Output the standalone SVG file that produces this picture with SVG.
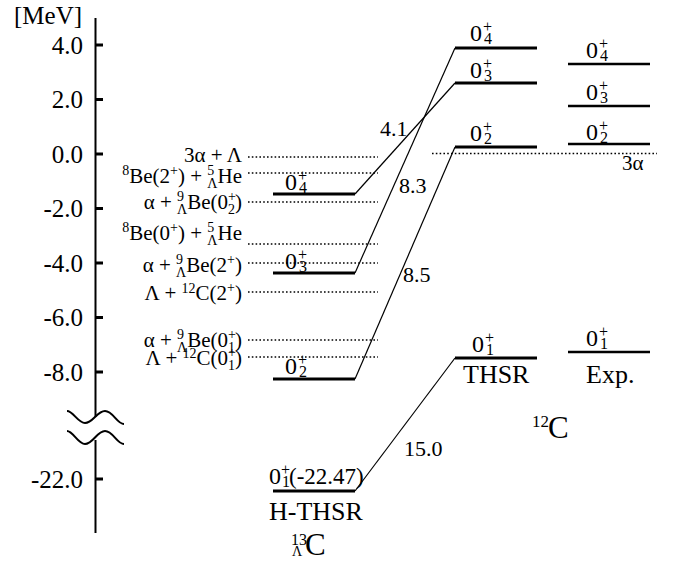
<svg xmlns="http://www.w3.org/2000/svg" width="680" height="561" viewBox="0 0 680 561">
<style>
.ax{stroke:#000;stroke-width:2;fill:none}
.tick{stroke:#000;stroke-width:3}
.dot{stroke:#000;stroke-width:1.6;stroke-dasharray:1.6 2.2;fill:none}
.bar{stroke:#000;stroke-width:3}
.ebar{stroke:#000;stroke-width:2.6}
.con{stroke:#000;stroke-width:1.2;fill:none}
</style>
<g font-family="Times New Roman" fill="#000">
<g id="axis">
<line class="ax" x1="95.5" y1="18" x2="95.5" y2="417"/>
<line class="ax" x1="95.5" y1="440" x2="95.5" y2="533"/>
<path class="ax" d="M67,411 C73,411 78,423 85,423 C93,423 97,411 105,411 C113,411 117,424 124,424"/>
<path class="ax" d="M67,431 C73,431 78,444 85,444 C93,444 97,431 105,431 C113,431 117,444 124,444"/>
<line class="tick" x1="96" y1="45" x2="103" y2="45"/>
<line class="tick" x1="96" y1="99.5" x2="103" y2="99.5"/>
<line class="tick" x1="96" y1="154" x2="103" y2="154"/>
<line class="tick" x1="96" y1="208.5" x2="103" y2="208.5"/>
<line class="tick" x1="96" y1="263" x2="103" y2="263"/>
<line class="tick" x1="96" y1="317.5" x2="103" y2="317.5"/>
<line class="tick" x1="96" y1="372" x2="103" y2="372"/>
<line class="tick" x1="96" y1="479" x2="103" y2="479"/>
<text font-family="Times New Roman" font-size="25" x="14" y="24">[MeV]</text>
<text font-family="Times New Roman" font-size="25" text-anchor="end" x="83" y="53.5">4.0</text>
<text font-family="Times New Roman" font-size="25" text-anchor="end" x="83" y="108">2.0</text>
<text font-family="Times New Roman" font-size="25" text-anchor="end" x="83" y="162.5">0.0</text>
<text font-family="Times New Roman" font-size="25" text-anchor="end" x="83" y="217">-2.0</text>
<text font-family="Times New Roman" font-size="25" text-anchor="end" x="83" y="271.5">-4.0</text>
<text font-family="Times New Roman" font-size="25" text-anchor="end" x="83" y="326">-6.0</text>
<text font-family="Times New Roman" font-size="25" text-anchor="end" x="83" y="380.5">-8.0</text>
<text font-family="Times New Roman" font-size="25" text-anchor="end" x="83" y="487.5">-22.0</text>
</g>

<g id="thresholds">
<line class="dot" x1="248" y1="157" x2="378" y2="157"/>
<line class="dot" x1="248" y1="173" x2="378" y2="173"/>
<line class="dot" x1="248" y1="202" x2="378" y2="202"/>
<line class="dot" x1="248" y1="244" x2="378" y2="244"/>
<line class="dot" x1="248" y1="263" x2="378" y2="263"/>
<line class="dot" x1="248" y1="292" x2="378" y2="292"/>
<line class="dot" x1="248" y1="340" x2="378" y2="340"/>
<line class="dot" x1="248" y1="357" x2="378" y2="357"/>
<text font-family="Times New Roman" font-size="21" text-anchor="end" x="242" y="162">3α + Λ</text>
<text font-family="Times New Roman" font-size="21" text-anchor="end" x="242" y="183"><tspan font-size="14" dy="-8">8</tspan><tspan dy="8">Be(2</tspan><tspan font-size="14" dy="-8">+</tspan><tspan dy="8">) + </tspan><tspan font-size="14" dy="-8">5</tspan><tspan font-size="14" dx="-7" dy="13">Λ</tspan><tspan dy="-5">He</tspan></text>
<text font-family="Times New Roman" font-size="21" text-anchor="end" x="242" y="209">α + <tspan font-size="14" dy="-8">9</tspan><tspan font-size="14" dx="-7" dy="13">Λ</tspan><tspan dy="-5">Be(0</tspan><tspan font-size="14" dy="-8">+</tspan><tspan font-size="14" dx="-8" dy="13">2</tspan><tspan dy="-5">)</tspan></text>
<text font-family="Times New Roman" font-size="21" text-anchor="end" x="242" y="240"><tspan font-size="14" dy="-8">8</tspan><tspan dy="8">Be(0</tspan><tspan font-size="14" dy="-8">+</tspan><tspan dy="8">) + </tspan><tspan font-size="14" dy="-8">5</tspan><tspan font-size="14" dx="-7" dy="13">Λ</tspan><tspan dy="-5">He</tspan></text>
<text font-family="Times New Roman" font-size="21" text-anchor="end" x="242" y="272">α + <tspan font-size="14" dy="-8">9</tspan><tspan font-size="14" dx="-7" dy="13">Λ</tspan><tspan dy="-5">Be(2</tspan><tspan font-size="14" dy="-8">+</tspan><tspan dy="8">)</tspan></text>
<text font-family="Times New Roman" font-size="21" text-anchor="end" x="242" y="300">Λ + <tspan font-size="14" dy="-7">12</tspan><tspan dy="7">C(2</tspan><tspan font-size="14" dy="-8">+</tspan><tspan dy="8">)</tspan></text>
<text font-family="Times New Roman" font-size="21" text-anchor="end" x="242" y="347">α + <tspan font-size="14" dy="-8">9</tspan><tspan font-size="14" dx="-7" dy="13">Λ</tspan><tspan dy="-5">Be(0</tspan><tspan font-size="14" dy="-8">+</tspan><tspan font-size="14" dx="-8" dy="13">1</tspan><tspan dy="-5">)</tspan></text>
<text font-family="Times New Roman" font-size="21" text-anchor="end" x="242" y="365">Λ + <tspan font-size="14" dy="-7">12</tspan><tspan dy="7">C(0</tspan><tspan font-size="14" dy="-8">+</tspan><tspan font-size="14" dx="-8" dy="13">1</tspan><tspan dy="-5">)</tspan></text>
</g>

<g id="connectors">
<line class="con" x1="355" y1="194" x2="455" y2="83"/>
<line class="con" x1="355" y1="273" x2="455" y2="48"/>
<line class="con" x1="355" y1="379" x2="455" y2="147"/>
<line class="con" x1="355" y1="491" x2="455" y2="358"/>
<text font-family="Times New Roman" font-size="22" x="380" y="136">4.1</text>
<text font-family="Times New Roman" font-size="22" x="399" y="193">8.3</text>
<text font-family="Times New Roman" font-size="22" x="403" y="282">8.5</text>
<text font-family="Times New Roman" font-size="22" x="404" y="456">15.0</text>
</g>

<g id="h04">
<line class="bar" x1="273" y1="194" x2="355" y2="194"/>
<text font-family="Times New Roman" font-size="24" x="285" y="190">0</text><text font-family="Times New Roman" font-size="16" x="298" y="181">+</text><text font-family="Times New Roman" font-size="16" x="299" y="193">4</text>
</g>
<g id="h03">
<line class="bar" x1="273" y1="273" x2="355" y2="273"/>
<text font-family="Times New Roman" font-size="24" x="285" y="269">0</text><text font-family="Times New Roman" font-size="16" x="298" y="260">+</text><text font-family="Times New Roman" font-size="16" x="299" y="272">3</text>
</g>
<g id="h02">
<line class="bar" x1="273" y1="379" x2="355" y2="379"/>
<text font-family="Times New Roman" font-size="24" x="285" y="374">0</text><text font-family="Times New Roman" font-size="16" x="298" y="365">+</text><text font-family="Times New Roman" font-size="16" x="299" y="377">2</text>
</g>
<g id="h01">
<line class="bar" x1="273" y1="491" x2="355" y2="491"/>
<text font-family="Times New Roman" font-size="24" x="269" y="484">0</text><text font-family="Times New Roman" font-size="16" x="281" y="475">+</text><text font-family="Times New Roman" font-size="16" x="282" y="487">1</text>
<text font-family="Times New Roman" font-size="23" x="289" y="484">(-22.47)</text>
</g>

<g id="t04">
<line class="bar" x1="455" y1="48" x2="537" y2="48"/>
<text font-family="Times New Roman" font-size="24" x="470" y="41">0</text><text font-family="Times New Roman" font-size="16" x="483" y="32">+</text><text font-family="Times New Roman" font-size="16" x="484" y="44">4</text>
</g>
<g id="t03">
<line class="bar" x1="455" y1="83" x2="537" y2="83"/>
<text font-family="Times New Roman" font-size="24" x="470" y="78">0</text><text font-family="Times New Roman" font-size="16" x="483" y="69">+</text><text font-family="Times New Roman" font-size="16" x="484" y="81">3</text>
</g>
<g id="t02">
<line class="bar" x1="455" y1="147" x2="537" y2="147"/>
<text font-family="Times New Roman" font-size="24" x="470" y="141">0</text><text font-family="Times New Roman" font-size="16" x="483" y="132">+</text><text font-family="Times New Roman" font-size="16" x="484" y="144">2</text>
</g>
<g id="t01">
<line class="bar" x1="455" y1="358" x2="537" y2="358"/>
<text font-family="Times New Roman" font-size="24" x="472" y="352">0</text><text font-family="Times New Roman" font-size="16" x="485" y="343">+</text><text font-family="Times New Roman" font-size="16" x="486" y="355">1</text>
</g>

<g id="e04">
<line class="ebar" x1="568" y1="64" x2="650" y2="64"/>
<text font-family="Times New Roman" font-size="24" x="586" y="58">0</text><text font-family="Times New Roman" font-size="16" x="599" y="49">+</text><text font-family="Times New Roman" font-size="16" x="600" y="61">4</text>
</g>
<g id="e03">
<line class="ebar" x1="568" y1="106" x2="650" y2="106"/>
<text font-family="Times New Roman" font-size="24" x="586" y="100">0</text><text font-family="Times New Roman" font-size="16" x="599" y="91">+</text><text font-family="Times New Roman" font-size="16" x="600" y="103">3</text>
</g>
<g id="e02">
<line class="ebar" x1="568" y1="144" x2="650" y2="144"/>
<text font-family="Times New Roman" font-size="24" x="586" y="140">0</text><text font-family="Times New Roman" font-size="16" x="599" y="131">+</text><text font-family="Times New Roman" font-size="16" x="600" y="143">2</text>
</g>
<g id="e01">
<line class="ebar" x1="568" y1="352" x2="650" y2="352"/>
<text font-family="Times New Roman" font-size="24" x="586" y="346">0</text><text font-family="Times New Roman" font-size="16" x="599" y="337">+</text><text font-family="Times New Roman" font-size="16" x="600" y="349">1</text>
</g>

<g id="threshold3a">
<line class="dot" x1="432" y1="153.5" x2="657" y2="153.5"/>
<text font-family="Times New Roman" font-size="21" x="622" y="170">3α</text>
</g>

<g id="captions">
<text font-family="Times New Roman" font-size="26" x="463" y="383">THSR</text>
<text font-family="Times New Roman" font-size="26" x="586" y="383">Exp.</text>
<text font-family="Times New Roman" font-size="17" x="532" y="427">12</text>
<text font-family="Times New Roman" font-size="31" x="548" y="438">C</text>
<text font-family="Times New Roman" font-size="26" x="269" y="520">H-THSR</text>
<text font-family="Times New Roman" font-size="16" x="291" y="545">13</text>
<text font-family="Times New Roman" font-size="14" x="292" y="556">Λ</text>
<text font-family="Times New Roman" font-size="31" x="305" y="555">C</text>
</g>
</g>
</svg>
